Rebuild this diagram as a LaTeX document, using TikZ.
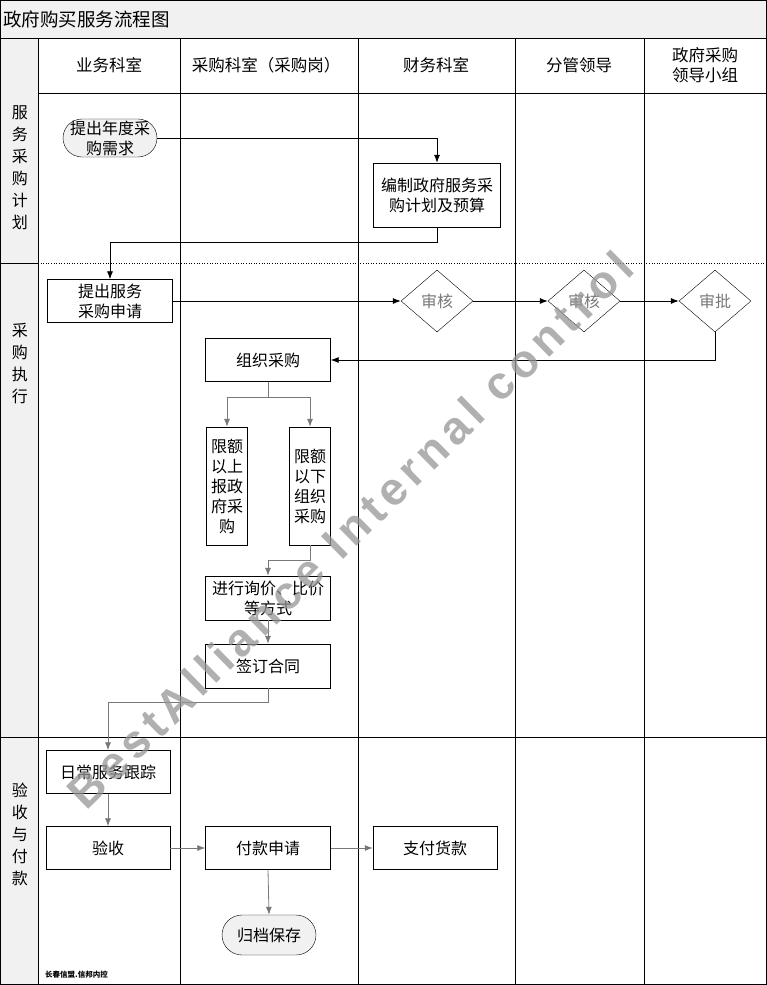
\documentclass[tikz,border=0pt]{standalone}
\usepackage{fontspec}
\setmainfont{Noto Sans CJK SC}
\newfontfamily\markfont[LetterSpace=12]{Liberation Sans}
\usetikzlibrary{positioning, arrows.meta, shapes.geometric}
\definecolor{ink}{RGB}{0,0,0}
\definecolor{pale}{RGB}{241,241,241}
\definecolor{dim}{RGB}{120,120,120}
\definecolor{mark}{RGB}{150,150,150}

\begin{document}
\begin{tikzpicture}[
  x=1pt, y=-1pt,
  every node/.style={font=\fontsize{16}{20}\selectfont, inner sep=0pt},
  proc/.style={draw=ink, fill=white, align=center, minimum width=125pt,
               minimum height=43pt},
  slim/.style={proc, minimum width=41pt, minimum height=118pt},
  term/.style={draw=ink, fill=pale, rounded corners=19pt, align=center,
               minimum width=94pt, minimum height=38pt},
  dec/.style={diamond, draw=ink, fill=white, text=dim, aspect=1.16,
              minimum width=72pt, minimum height=62pt},
  flow/.style={-{Latex[length=8pt, width=6pt]}, draw=ink, line width=0.8pt},
  gflow/.style={-{Latex[length=8pt, width=6pt]}, draw=dim, line width=0.8pt},
  head/.style={align=center, font=\fontsize{16.5}{20}\selectfont},
  lane/.style={align=center, font=\fontsize{16}{22}\selectfont}]

  \useasboundingbox (0,0) rectangle (767,985);

  % grid of the swimlanes
  \fill[pale] (0,0) rectangle (766,38);
  \fill[pale] (0,38) rectangle (38,984);
  \draw[ink, line width=0.8pt] (0,0.5) rectangle (766,984);
  \draw[ink, line width=0.8pt] (0,38) -- (766,38);
  \draw[ink, line width=0.8pt] (38,93) -- (766,93);
  \draw[ink, line width=0.8pt] (0,263) -- (38,263);
  \draw[ink, line width=0.6pt, dotted] (38,263) -- (766,263);
  \draw[ink, line width=0.8pt] (0,737) -- (766,737);
  \foreach \cx in {38,180,358,515,644}
    \draw[ink, line width=0.8pt] (\cx,38) -- (\cx,984);

  \node[anchor=west, font=\fontsize{18.5}{20}\selectfont] (title) at (3,19) {政府购买服务流程图};

  \node[head] (h1) at (109,65) {业务科室};
  \node[head] (h2) at (266,65) {采购科室（采购岗）};
  \node[head] (h3) at (436,65) {财务科室};
  \node[head] (h4) at (579,65) {分管领导};
  \node[head] (h5) at (705,65) {政府采购\\领导小组};

  \node[lane] (l1) at (20,168) {服\\务\\采\\购\\计\\划};
  \node[lane] (l2) at (20,364) {采\\购\\执\\行};
  \node[lane] (l3) at (20,834) {验\\收\\与\\付\\款};

  % plan
  \node[term] (need) at (110,138) {提出年度采\\购需求};
  \node[proc, minimum width=127pt, minimum height=64pt] (plan) at (437,195) {编制政府服务采\\购计划及预算};

  % execution
  \node[proc] (req) at (110,301) {提出服务\\采购申请};
  \node[dec] (chk1) at (437,301) {审核};
  \node[dec] (chk2) at (584,301) {审核};
  \node[dec] (ok) at (715,301) {审批};
  \node[proc] (org) at (268,360) {组织采购};
  \node[slim] (above) at (227,486) {限额\\以上\\报政\\府采\\购};
  \node[slim] (below) at (310,486) {限额\\以下\\组织\\采购};
  \node[proc, minimum height=44pt] (quote) at (268,598) {进行询价、比价\\等方式};
  \node[proc, minimum height=44pt] (sign) at (268,666) {签订合同};

  % acceptance and payment
  \node[proc, minimum width=124pt] (track) at (108,772) {日常服务跟踪};
  \node[proc, minimum width=124pt] (accept) at (108,848) {验收};
  \node[proc] (payreq) at (268,848) {付款申请};
  \node[proc, minimum width=124pt] (pay) at (435,848) {支付货款};
  \node[term, minimum height=40pt, rounded corners=20pt] (file) at (269,935) {归档保存};

  \draw[flow] (need.east) -| (plan.north);
  \draw[flow] (plan.south) -- (437,242) -| (req.north);
  \draw[flow] (req.east) -- (chk1.west);
  \draw[flow] (chk1.east) -- (chk2.west);
  \draw[flow] (chk2.east) -- (ok.west);
  \draw[flow] (ok.south) |- (org.east);

  \draw[gflow] (org.south) -- (268,397) -| (above.north);
  \draw[gflow] (org.south) -- (268,397) -| (below.north);
  \draw[gflow] (below.south) -- (310,560) -| (quote.north);
  \draw[gflow] (quote.south) -- (sign.north);
  \draw[gflow] (sign.south) -- (268,702) -| (track.north);
  \draw[gflow] (track.south) -- (accept.north);
  \draw[gflow] (accept.east) -- (payreq.west);
  \draw[gflow] (payreq.east) -- (pay.west);
  \draw[gflow] (payreq.south) -- (file.north);

  \node[anchor=west, font=\fontsize{7.5}{8}\selectfont\bfseries] (sig) at (45,975) {长春信盟.信邦内控};

  \node[text=mark, opacity=0.75, rotate=44.5, font=\markfont\bfseries] (wm) at (350,530)
    {\resizebox{770pt}{!}{BestAlliance Internal control}};
\end{tikzpicture}
\end{document}
